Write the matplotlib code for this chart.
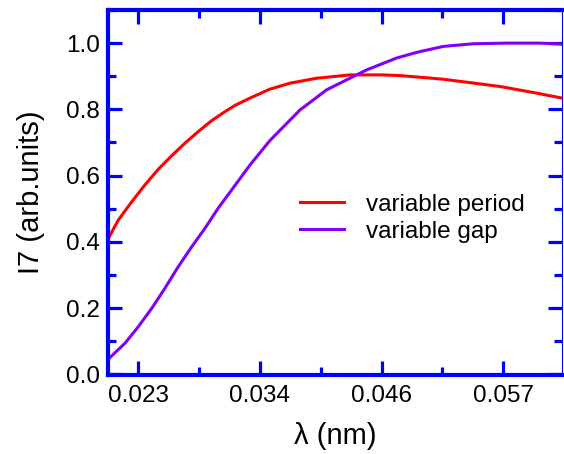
import matplotlib
matplotlib.use("Agg")
import matplotlib.pyplot as plt
from matplotlib.ticker import MultipleLocator, FixedLocator, FixedFormatter, FormatStrFormatter

# ---- data ----
period_x = [0.02000, 0.02098, 0.02224, 0.02348, 0.02473, 0.02599, 0.02724,
            0.02849, 0.02975, 0.03100, 0.03194, 0.03335, 0.03522, 0.03710,
            0.03961, 0.04275, 0.04586, 0.04743, 0.05150, 0.05685, 0.06027,
            0.06266]
period_y = [0.408, 0.466, 0.521, 0.572, 0.619, 0.660, 0.698,
            0.733, 0.766, 0.793, 0.812, 0.834, 0.861, 0.879,
            0.894, 0.904, 0.904, 0.902, 0.891, 0.869, 0.849,
            0.834]

gap_x = [0.02000, 0.02161, 0.02286, 0.02411, 0.02536, 0.02661, 0.02787,
         0.02912, 0.03037, 0.03163, 0.03335, 0.03522, 0.03804, 0.04055,
         0.04273, 0.04430, 0.04712, 0.04900, 0.05150, 0.05432, 0.05745,
         0.06058, 0.06266]
gap_y = [0.045, 0.094, 0.144, 0.199, 0.260, 0.325, 0.385,
         0.441, 0.502, 0.557, 0.632, 0.706, 0.798, 0.859,
         0.894, 0.919, 0.955, 0.972, 0.990, 0.998, 1.000,
         1.000, 0.997]

xtick_values = [0.16 / 7, 0.24 / 7, 0.32 / 7, 0.40 / 7]
xtick_labels = ["0.023", "0.034", "0.046", "0.057"]
xminor_values = [0.20 / 7, 0.28 / 7, 0.36 / 7, 0.44 / 7]
series_labels = ["variable period", "variable gap"]

plt.rcParams['font.family'] = ['Liberation Sans', 'DejaVu Sans']

fig = plt.figure(figsize=(5.64, 4.54), dpi=100)
ax = fig.add_axes([0.1915, 0.174, 0.805, 0.804])

ax.plot(period_x, period_y, color='#FF0000', lw=2.2, label=series_labels[0],
        solid_joinstyle='round')
ax.plot(gap_x, gap_y, color='#7F00FF', lw=2.2, label=series_labels[1],
        solid_joinstyle='round')

ax.set_xlim(0.02001, 0.06266)
ax.set_ylim(-0.002, 1.1)

ax.xaxis.set_major_locator(FixedLocator(xtick_values))
ax.xaxis.set_major_formatter(FixedFormatter(xtick_labels))
ax.xaxis.set_minor_locator(FixedLocator(xminor_values))
ax.yaxis.set_major_locator(MultipleLocator(0.2))
ax.yaxis.set_minor_locator(MultipleLocator(0.1))
ax.yaxis.set_major_formatter(FormatStrFormatter('%.1f'))

blue = '#0000FF'
for side in ['left', 'bottom', 'top']:
    ax.spines[side].set_color(blue)
    ax.spines[side].set_linewidth(3)
ax.spines['right'].set_color(blue)
ax.spines['right'].set_linewidth(0.8)

ax.tick_params(which='both', direction='in', top=True, right=True,
               color=blue, width=2.3, labelsize=17.5)
ax.tick_params(which='major', length=10)
ax.tick_params(which='minor', length=6)
ax.tick_params(axis='x', which='major', pad=7)
ax.tick_params(axis='y', which='major', pad=6)

ax.set_xlabel('λ (nm)', fontsize=21, labelpad=11)
ax.set_ylabel('I7 (arb.units)', fontsize=21, labelpad=15)

leg = ax.legend(loc='center left', bbox_to_anchor=(0.423, 0.429), frameon=False,
                fontsize=17.5, handlelength=1.8, handletextpad=0.9,
                borderpad=0, borderaxespad=0, labelspacing=0.2)

fig.savefig('out.png', dpi=100)
